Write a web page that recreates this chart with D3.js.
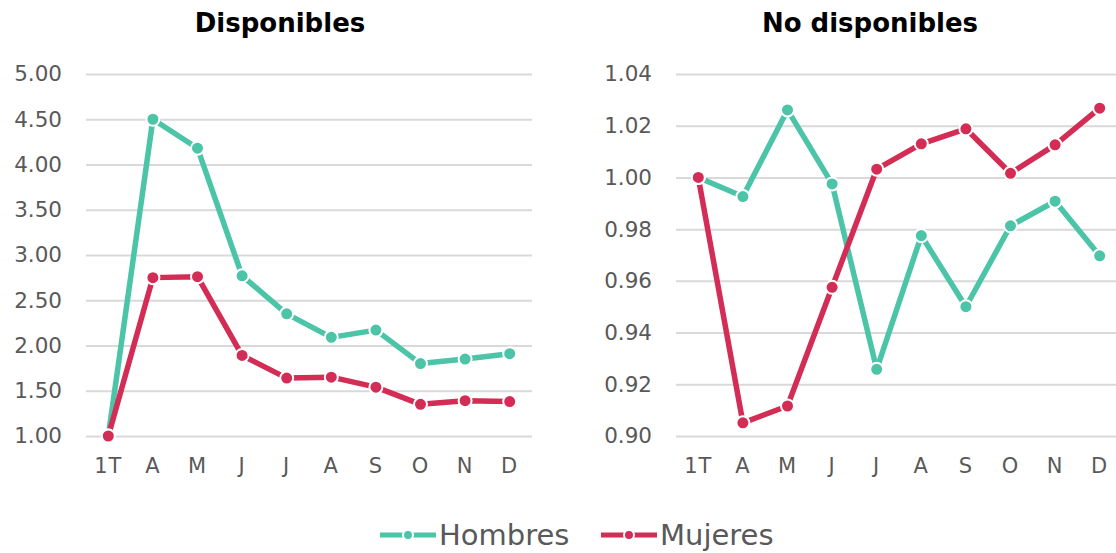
<!DOCTYPE html>
<html>
<head>
<meta charset="utf-8">
<script src="https://cdn.jsdelivr.net/npm/d3@7"></script>
<style>
  body { margin: 0; background: #fff; }
  svg { display: block; font-family: "DejaVu Sans", "Noto Sans", sans-serif; }
</style>
</head>
<body>
<svg id="chart" width="1116" height="553"></svg>
<script>
const months = ['1T', 'A', 'M', 'J', 'J', 'A', 'S', 'O', 'N', 'D']

const dispHombres = [1.00, 4.50, 4.18, 2.77, 2.35, 2.09, 2.17, 1.80, 1.85, 1.91]
const dispMujeres = [1.00, 2.75, 2.76, 1.89, 1.64, 1.65, 1.54, 1.35, 1.39, 1.38]
const dispTicks = [1.0, 1.5, 2.0, 2.5, 3.0, 3.5, 4.0, 4.5, 5.0]

const noDispHombres = [1.000, 0.9926, 1.0261, 0.9975, 0.9258, 0.9775, 0.9500, 0.9813, 0.9908, 0.9697]
const noDispMujeres = [1.000, 0.9051, 0.9116, 0.9575, 1.0032, 1.0130, 1.0188, 1.0016, 1.0126, 1.0268]
const noDispTicks = [0.90, 0.92, 0.94, 0.96, 0.98, 1.00, 1.02, 1.04]

const COLORS = { Hombres: '#4BC4A8', Mujeres: '#D32C55' }
const GREY = '#595959'
const FONT = '"DejaVu Sans", sans-serif'

const svg = d3.select('#chart')

const renderPanel = ({ title, left, right, ticks, series }) => {
  const top = 74, bottom = 436
  const x = d3.scaleBand().domain(d3.range(months.length)).range([left, right])
  const y = d3.scaleLinear().domain([ticks[0], ticks[ticks.length - 1]]).range([bottom, top])
  const g = svg.append('g')

  g.append('text')
    .text(title)
    .attr('x', (left + right) / 2 - 29)
    .attr('y', 23)
    .attr('text-anchor', 'middle')
    .attr('dominant-baseline', 'central')
    .attr('font-size', 26)
    .attr('font-weight', 'bold')
    .attr('fill', '#000')

  // y axis: gridlines + labels
  const yAxis = d3.axisLeft(y).tickValues(ticks).tickFormat(d3.format('.2f'))
    .tickSize(-(right - left)).tickPadding(24)
  g.append('g')
    .attr('transform', `translate(${left},0)`)
    .call(yAxis)
    .call(a => a.select('.domain').remove())
    .call(a => a.selectAll('line').attr('stroke', '#d9d9d9').attr('stroke-width', 2))
    .call(a => a.selectAll('text').attr('fill', GREY).attr('font-size', 21.5).attr('font-family', FONT))

  // x axis labels
  const xAxis = d3.axisBottom(x).tickFormat(i => months[i]).tickSize(0).tickPadding(22)
  g.append('g')
    .attr('transform', `translate(0,${bottom})`)
    .call(xAxis)
    .call(a => a.select('.domain').remove())
    .call(a => a.selectAll('text').attr('fill', GREY).attr('font-size', 21)
      .attr('letter-spacing', 1).attr('font-family', FONT))

  const cx = i => x(i) + x.bandwidth() / 2
  const line = d3.line().x((d, i) => cx(i)).y(d => y(d))

  series.forEach(s => {
    g.append('path')
      .datum(s.values)
      .attr('d', line)
      .attr('fill', 'none')
      .attr('stroke', COLORS[s.name])
      .attr('stroke-width', 5.5)
      .attr('stroke-linejoin', 'round')
  })
  series.forEach(s => {
    g.selectAll(null)
      .data(s.values)
      .join('circle')
      .attr('cx', (d, i) => cx(i))
      .attr('cy', d => y(d))
      .attr('r', 6.5)
      .attr('fill', COLORS[s.name])
      .attr('stroke', '#fff')
      .attr('stroke-width', 2)
  })
}

renderPanel({
  title: 'Disponibles', left: 86, right: 532, ticks: dispTicks,
  series: [{ name: 'Hombres', values: dispHombres }, { name: 'Mujeres', values: dispMujeres }]
})
renderPanel({
  title: 'No disponibles', left: 676, right: 1122, ticks: noDispTicks,
  series: [{ name: 'Hombres', values: noDispHombres }, { name: 'Mujeres', values: noDispMujeres }]
})

// legend
const legendItems = [{ name: 'Hombres', x: 380 }, { name: 'Mujeres', x: 601 }]
const lg = svg.append('g').attr('transform', 'translate(0,535)')
legendItems.forEach(d => {
  const item = lg.append('g').attr('transform', `translate(${d.x},0)`)
  item.append('line')
    .attr('x1', 0).attr('x2', 56).attr('y1', 0).attr('y2', 0)
    .attr('stroke', COLORS[d.name]).attr('stroke-width', 5)
  item.append('circle')
    .attr('cx', 28).attr('cy', 0).attr('r', 5)
    .attr('fill', COLORS[d.name]).attr('stroke', '#fff').attr('stroke-width', 2)
  item.append('text')
    .text(d.name)
    .attr('x', 59).attr('y', 0)
    .attr('dominant-baseline', 'central')
    .attr('font-size', 29)
    .attr('fill', GREY)
})
</script>
</body>
</html>
